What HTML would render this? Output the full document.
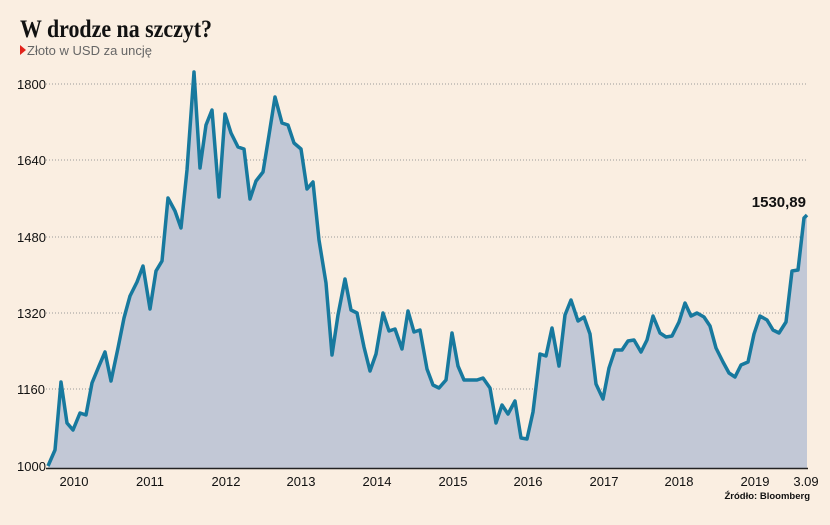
<!DOCTYPE html>
<html><head><meta charset="utf-8"><style>
html,body{margin:0;padding:0;background:#faeee1;}
body{width:830px;height:520px;overflow:hidden;font-family:"Liberation Sans",sans-serif;}
</style></head><body>
<svg width="830" height="520" xmlns="http://www.w3.org/2000/svg">
<rect width="830" height="520" fill="#faeee1"/>
<text x="20" y="37" font-family="Liberation Serif,serif" font-weight="bold" font-size="25" fill="#111" textLength="192" lengthAdjust="spacingAndGlyphs">W drodze na szczyt?</text>
<polygon points="20,45 26,50 20,55" fill="#e2231a"/>
<text x="27" y="55" font-size="13" fill="#666">Złoto w USD za uncję</text>
<g stroke="#999" stroke-width="1" stroke-dasharray="1,2">
<line x1="46" y1="84" x2="808" y2="84"/>
<line x1="46" y1="160" x2="808" y2="160"/>
<line x1="46" y1="237" x2="808" y2="237"/>
<line x1="46" y1="313" x2="808" y2="313"/>
<line x1="46" y1="389" x2="808" y2="389"/>
</g>
<g font-size="13" fill="#111">
<text x="17" y="89">1800</text>
<text x="17" y="165">1640</text>
<text x="17" y="242">1480</text>
<text x="17" y="318">1320</text>
<text x="17" y="394">1160</text>
<text x="17" y="471">1000</text>
</g>
<polygon fill="#c2c8d6" points="48,468 48,466 55,450 61,382 67,423 73,430 80,413 86,415 92,383 99,366 105,352 111,381 118,348 124,318 130,296 137,282 143,266 150,309 156,271 162,261 168,198 175,211 181,228 187,170 194,72 200,168 206,125 212,110 219,197 225,114 231,133 238,147 244,149 250,199 256,181 263,172 269,135 275,97 282,123 288,125 294,143 301,149 307,189 313,182 319,240 326,283 332,355 338,315 345,279 351,310 357,313 364,347 370,371 376,354 383,313 389,331 395,329 402,349 408,311 414,332 420,330 427,369 433,385 439,388 446,380 452,333 458,366 464,380 471,380 477,380 483,378 490,388 496,423 502,405 508,414 515,401 521,438 527,439 533,412 540,354 546,356 552,328 559,366 565,315 571,300 578,321 584,317 590,334 596,384 603,399 609,368 615,350 622,350 628,341 634,340 641,352 647,340 653,316 660,333 666,337 672,336 679,322 685,303 691,316 697,313 704,317 710,326 716,348 723,362 729,373 735,377 741,365 748,362 754,334 760,316 767,320 773,330 779,333 786,322 792,271 798,270 804,218 807,215 807,468"/>
<polyline fill="none" stroke="#17799e" stroke-width="3.5" stroke-linejoin="round" points="48,466 55,450 61,382 67,423 73,430 80,413 86,415 92,383 99,366 105,352 111,381 118,348 124,318 130,296 137,282 143,266 150,309 156,271 162,261 168,198 175,211 181,228 187,170 194,72 200,168 206,125 212,110 219,197 225,114 231,133 238,147 244,149 250,199 256,181 263,172 269,135 275,97 282,123 288,125 294,143 301,149 307,189 313,182 319,240 326,283 332,355 338,315 345,279 351,310 357,313 364,347 370,371 376,354 383,313 389,331 395,329 402,349 408,311 414,332 420,330 427,369 433,385 439,388 446,380 452,333 458,366 464,380 471,380 477,380 483,378 490,388 496,423 502,405 508,414 515,401 521,438 527,439 533,412 540,354 546,356 552,328 559,366 565,315 571,300 578,321 584,317 590,334 596,384 603,399 609,368 615,350 622,350 628,341 634,340 641,352 647,340 653,316 660,333 666,337 672,336 679,322 685,303 691,316 697,313 704,317 710,326 716,348 723,362 729,373 735,377 741,365 748,362 754,334 760,316 767,320 773,330 779,333 786,322 792,271 798,270 804,218 807,215"/>
<line x1="46" y1="468.5" x2="808" y2="468.5" stroke="#222" stroke-width="1.5"/>
<g font-size="13" fill="#111" text-anchor="middle">
<text x="74" y="486">2010</text>
<text x="150" y="486">2011</text>
<text x="226" y="486">2012</text>
<text x="301" y="486">2013</text>
<text x="377" y="486">2014</text>
<text x="453" y="486">2015</text>
<text x="528" y="486">2016</text>
<text x="604" y="486">2017</text>
<text x="679" y="486">2018</text>
<text x="755" y="486">2019</text>
<text x="806" y="486">3.09</text>
</g>
<text x="810" y="499" font-size="9.5" font-weight="bold" fill="#111" text-anchor="end">Źródło: Bloomberg</text>
<text x="806" y="207" font-size="15" font-weight="bold" fill="#111" text-anchor="end">1530,89</text>
</svg>
</body></html>
